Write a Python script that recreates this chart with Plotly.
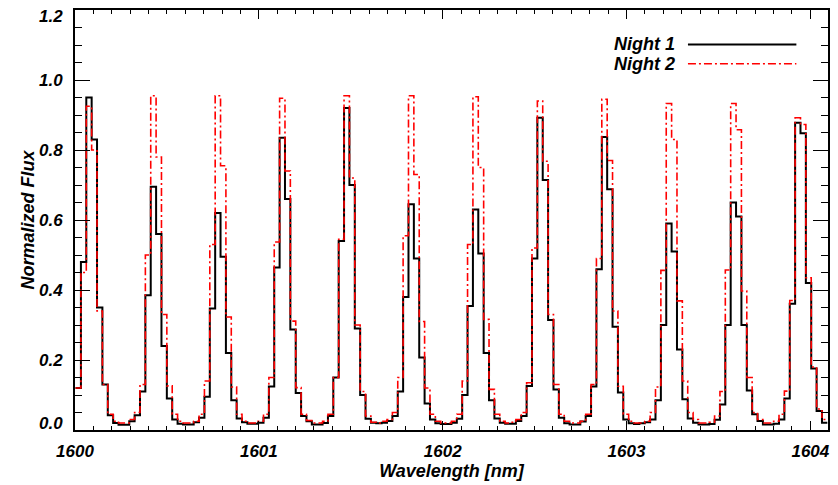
import numpy as np
import plotly.graph_objects as go

# wavelength sampling of the spectra (bin left edges start here, nm)
lam_start = 1600.003
lam_step = 0.02921

# normalized flux per bin
night1 = [
    0.12, 0.48, 0.95, 0.83, 0.35, 0.13, 0.042, 0.02, 0.015, 0.015,
    0.025, 0.042, 0.11, 0.385, 0.695, 0.56, 0.24, 0.09, 0.03, 0.018,
    0.016, 0.016, 0.022, 0.035, 0.095, 0.347, 0.62, 0.495, 0.22, 0.085,
    0.033, 0.022, 0.018, 0.018, 0.021, 0.035, 0.124, 0.464, 0.835, 0.66,
    0.287, 0.106, 0.04, 0.025, 0.016, 0.016, 0.02, 0.04, 0.15, 0.54,
    0.92, 0.70, 0.29, 0.10, 0.032, 0.021, 0.019, 0.021, 0.026, 0.04,
    0.11, 0.38, 0.645, 0.49, 0.207, 0.076, 0.03, 0.019, 0.017, 0.017,
    0.021, 0.032, 0.10, 0.354, 0.63, 0.504, 0.22, 0.085, 0.033, 0.021,
    0.018, 0.018, 0.026, 0.04, 0.126, 0.49, 0.892, 0.714, 0.314, 0.116,
    0.035, 0.019, 0.016, 0.016, 0.024, 0.04, 0.124, 0.459, 0.837, 0.688,
    0.295, 0.107, 0.03, 0.019, 0.017, 0.019, 0.022, 0.03, 0.085, 0.30,
    0.59, 0.51, 0.23, 0.088, 0.033, 0.021, 0.016, 0.016, 0.017, 0.029,
    0.073, 0.30, 0.65, 0.61, 0.30, 0.113, 0.045, 0.026, 0.016, 0.016,
    0.018, 0.03, 0.09, 0.361, 0.878, 0.848, 0.42, 0.176, 0.054, 0.021,
]

night2 = [
    0.12, 0.45, 0.925, 0.80, 0.34, 0.13, 0.045, 0.025, 0.02, 0.02,
    0.03, 0.05, 0.13, 0.50, 0.955, 0.78, 0.33, 0.126, 0.045, 0.025,
    0.02, 0.02, 0.025, 0.045, 0.14, 0.53, 0.955, 0.755, 0.323, 0.123,
    0.045, 0.025, 0.02, 0.02, 0.025, 0.045, 0.15, 0.537, 0.948, 0.74,
    0.311, 0.121, 0.045, 0.027, 0.02, 0.02, 0.025, 0.045, 0.15, 0.545,
    0.955, 0.72, 0.30, 0.11, 0.04, 0.022, 0.02, 0.025, 0.03, 0.05,
    0.15, 0.555, 0.955, 0.73, 0.31, 0.12, 0.045, 0.025, 0.02, 0.02,
    0.025, 0.045, 0.14, 0.53, 0.952, 0.75, 0.316, 0.116, 0.045, 0.025,
    0.02, 0.022, 0.03, 0.05, 0.135, 0.52, 0.94, 0.768, 0.33, 0.13,
    0.045, 0.025, 0.02, 0.02, 0.025, 0.045, 0.13, 0.49, 0.945, 0.77,
    0.34, 0.125, 0.045, 0.025, 0.02, 0.02, 0.025, 0.05, 0.123, 0.456,
    0.933, 0.83, 0.369, 0.14, 0.05, 0.03, 0.02, 0.02, 0.022, 0.04,
    0.11, 0.457, 0.933, 0.858, 0.397, 0.15, 0.05, 0.03, 0.02, 0.02,
    0.025, 0.045, 0.111, 0.37, 0.892, 0.873, 0.435, 0.18, 0.06, 0.03,
]

# y tick values and their labels
y_ticks = [0.0, 0.2, 0.4, 0.6, 0.8, 1.0, 1.2]
y_labels = ["0.0", "0.2", "0.4", "0.6", "0.8", "1.0", "1.2"]

# step plot: left bin edges plus closing edge
edges = lam_start + lam_step * np.arange(len(night1) + 1)

font_bi = dict(family="Liberation Sans", size=17, color="black",
               weight="bold", style="italic")

fig = go.Figure()

fig.add_trace(go.Scatter(
    x=edges, y=night1 + night1[-1:],
    mode="lines", line=dict(color="black", width=2, shape="hv"),
    name="Night 1"
))
fig.add_trace(go.Scatter(
    x=edges, y=night2 + night2[-1:],
    mode="lines",
    line=dict(color="red", width=1.6, shape="hv", dash="8px,3px,2px,3px"),
    name="Night 2"
))

# IDL-style legend: label on the left, line sample on the right
legend_rows = [("Night 1", 0.918, dict(color="black", width=2)),
               ("Night 2", 0.872, dict(color="red", width=1.6, dash="8px,3px,2px,3px"))]
for label, yp, ln in legend_rows:
    fig.add_annotation(x=0.799, y=yp, xref="paper", yref="paper", text=label,
                       showarrow=False, xanchor="right", yanchor="middle",
                       font=dict(font_bi, size=18))
    fig.add_shape(type="line", xref="paper", yref="paper",
                  x0=0.814, x1=0.958, y0=yp, y1=yp, line=ln)

# y tick labels drawn as text so the end labels can sit inside the box like IDL
for val, lab in zip(y_ticks, y_labels):
    shift = 7 if val == y_ticks[0] else (-6 if val == y_ticks[-1] else 0)
    fig.add_annotation(x=0, y=val, xref="paper", yref="y", text=lab,
                       showarrow=False, xanchor="right", yanchor="middle",
                       xshift=-10, yshift=shift, font=font_bi)

axis_common = dict(
    showline=True, linecolor="black", linewidth=1.5, mirror="allticks",
    ticks="inside", tickcolor="black", tickwidth=1.2, automargin=False,
    showgrid=False, zeroline=False, tickfont=font_bi,
)

fig.update_xaxes(
    range=[1600, 1604.096], tick0=1600, dtick=1, ticklen=9,
    ticklabelstandoff=5, ticklabeloverflow="allow",
    minor=dict(dtick=0.1, ticklen=4, ticks="inside", tickcolor="black", tickwidth=1.2),
    title=dict(text="Wavelength [nm]", font=dict(font_bi, size=18), standoff=4),
    **axis_common
)
fig.update_yaxes(
    range=[0, 1.2], tick0=0, dtick=0.2, ticklen=15, showticklabels=False,
    minor=dict(dtick=0.05, ticklen=7.5, ticks="inside", tickcolor="black", tickwidth=1.2),
    title=dict(text="Normalized Flux", font=dict(font_bi, size=18), standoff=34),
    **axis_common
)

# the page body adds an 8px offset, so the figure is 8px smaller than the window
fig.update_layout(
    width=830, height=477,
    margin=dict(l=67, r=10, t=2, b=55),
    plot_bgcolor="white", paper_bgcolor="white",
    showlegend=False,
)

fig.write_html("out.html")
